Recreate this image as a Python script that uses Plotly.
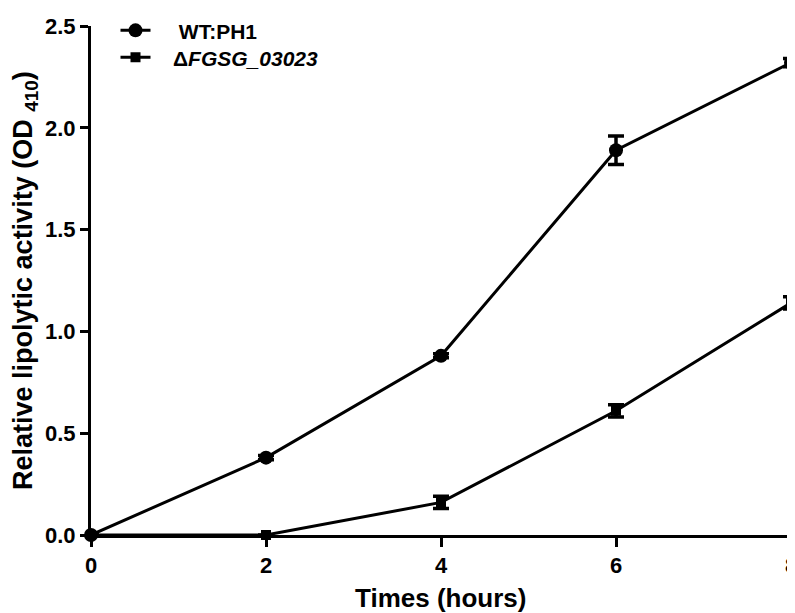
import plotly.graph_objects as go

times = [0, 2, 4, 6, 8]
wt_vals = [0.0, 0.38, 0.88, 1.89, 2.32]
wt_err = [0.0, 0.01, 0.01, 0.07, 0.02]
mut_vals = [0.0, 0.0, 0.16, 0.61, 1.14]
mut_err = [0.0, 0.0, 0.03, 0.03, 0.03]
x_ticks = [0, 2, 4, 6, 8]
y_ticks = [0.0, 0.5, 1.0, 1.5, 2.0, 2.5]

SANS = "Liberation Sans, Arial, sans-serif"
NB = "\u00a0"

fig = go.Figure()
fig.add_trace(go.Scatter(
    x=times, y=wt_vals, name=NB * 4 + "<b>WT:PH1</b>", mode="lines+markers",
    line=dict(color="black", width=3),
    marker=dict(symbol="circle", size=14, color="black"),
    error_y=dict(type="data", array=wt_err, color="black", thickness=3.5, width=8),
    cliponaxis=False, legend="legend",
))
fig.add_trace(go.Scatter(
    x=times, y=mut_vals, name=NB * 3 + "<b>Δ<i>FGSG_03023</i></b>", mode="lines+markers",
    line=dict(color="black", width=3),
    marker=dict(symbol="square", size=10, color="black"),
    error_y=dict(type="data", array=mut_err, color="black", thickness=3.5, width=8),
    cliponaxis=False, legend="legend2",
))

legend_common = dict(xanchor="left", yanchor="top",
                     font=dict(family=SANS, size=21, color="black"),
                     bgcolor="rgba(0,0,0,0)", itemwidth=30)

fig.update_layout(
    width=787, height=605,
    margin=dict(l=83, r=4, t=18, b=78, autoexpand=False),
    paper_bgcolor="white", plot_bgcolor="white",
    font=dict(family=SANS, color="black"),
    showlegend=True,
    legend=dict(x=0.035, y=1.031, **legend_common),
    legend2=dict(x=0.035, y=0.978, **legend_common),
    xaxis=dict(range=[0, 8], tickvals=x_ticks,
               ticktext=["<b>%d</b>" % v for v in x_ticks],
               showline=True, linecolor="black", linewidth=3,
               ticks="outside", ticklen=9, tickwidth=3, tickcolor="black",
               showgrid=False, zeroline=False, automargin=False,
               ticklabeloverflow="allow",
               tickfont=dict(family=SANS, size=22)),
    yaxis=dict(range=[0, 2.5], tickvals=y_ticks,
               ticktext=["<b>%.1f</b>" % v for v in y_ticks],
               showline=True, linecolor="black", linewidth=3,
               ticks="outside", ticklen=8, tickwidth=3, tickcolor="black",
               showgrid=False, zeroline=False, automargin=False,
               ticklabeloverflow="allow",
               tickfont=dict(family=SANS, size=22)),
    annotations=[
        dict(text="<b>Times (hours)</b>", xref="paper", yref="paper",
             x=0.4986, y=-0.1238, xanchor="center", yanchor="middle",
             showarrow=False, font=dict(family=SANS, size=26, color="black")),
        dict(text="<b>Relative lipolytic activity (OD <sub>410</sub>)</b>", xref="paper", yref="paper",
             x=-0.0943, y=0.501, xanchor="center", yanchor="middle", textangle=-90,
             showarrow=False, font=dict(family=SANS, size=27, color="black")),
    ],
)

fig.write_html("out.html")
